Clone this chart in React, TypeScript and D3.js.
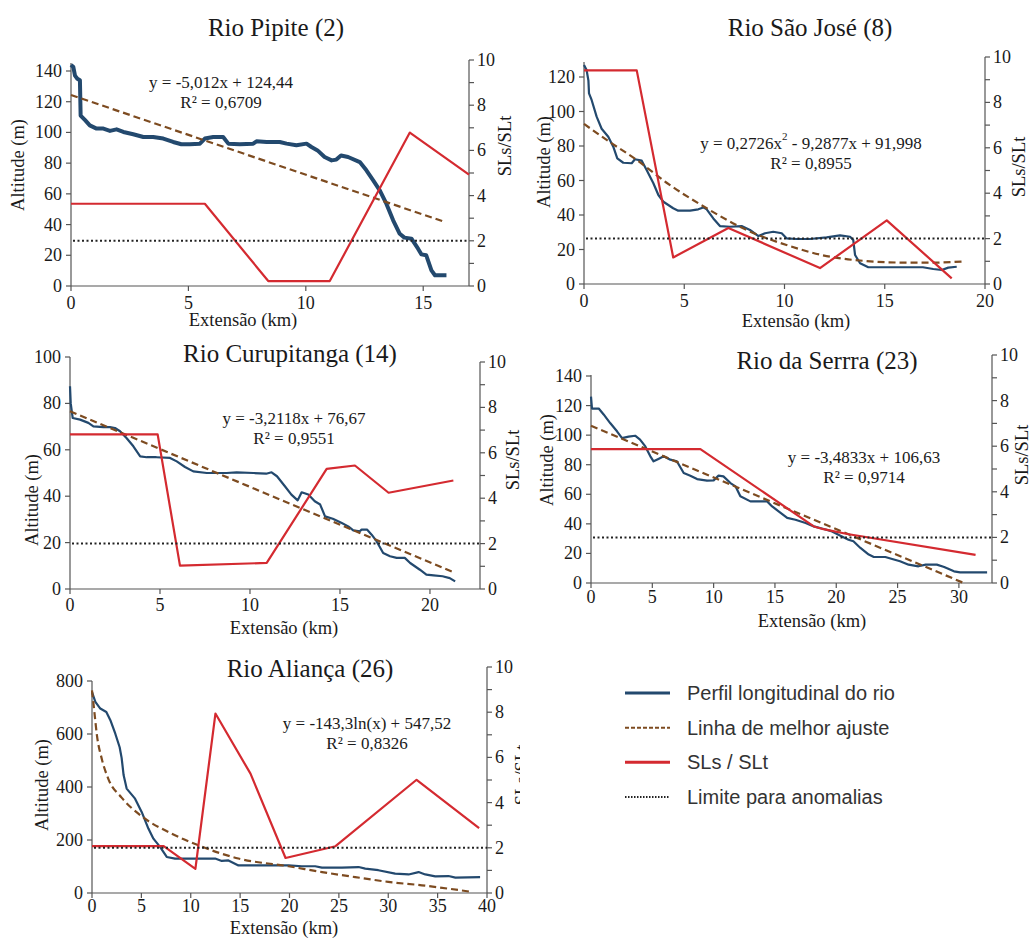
import * as d3 from "d3";

type Pt = [number, number];

// Rio Pipite (2): [km, altitude] and [km, SLs/SLt]
const pipiteProfile: Pt[] = [
  [0, 144], [0.1, 142.6], [0.17, 137], [0.27, 135], [0.38, 134], [0.41, 111], [0.6, 108], [0.8, 104.6],
  [1.09, 102.5], [1.38, 102.5], [1.66, 101], [1.94, 102], [2.23, 100.3], [2.65, 98.8], [3.08, 97], [3.5, 97],
  [3.93, 96], [4.35, 93.8], [4.7, 92.3], [5.06, 92.3], [5.49, 92.7], [5.7, 96], [6.06, 97], [6.48, 97],
  [6.7, 92.7], [7.19, 92.3], [7.76, 92.7], [7.9, 94.2], [8.33, 93.8], [8.89, 93.8], [9.18, 92.7], [9.6, 91.6],
  [10.03, 92.7], [10.24, 90.5], [10.5, 88.3], [10.8, 84], [11.1, 81.8], [11.3, 82.3], [11.5, 85], [11.8, 84],
  [12.3, 80.7], [12.58, 75.3], [12.87, 68.8], [13.15, 62.3], [13.43, 53.6], [13.72, 42.8], [14.0, 34],
  [14.2, 31.5], [14.5, 30.8], [14.78, 24.3], [14.92, 20.6], [15.13, 20], [15.35, 10.2], [15.5, 7], [15.99, 7],
];
const pipiteFit: Pt[] = [[0, 124.4], [15.9, 41.8]];
const pipiteSl: Pt[] = [[0, 3.64], [5.7, 3.64], [8.4, 0.22], [11.02, 0.22], [14.43, 6.79], [16.95, 4.93]];
const pipiteEq = ["y = -5,012x + 124,44", "R² = 0,6709"];

// Rio São José (8)
const saoJoseProfile: Pt[] = [
  [0, 127], [0.13, 124], [0.22, 118], [0.25, 110.5], [0.38, 106.7], [0.63, 97], [0.88, 90], [1.21, 85.4],
  [1.46, 79.6], [1.66, 72.8], [1.96, 70.3], [2.38, 70], [2.54, 72.3], [2.88, 71.5], [3.13, 66], [3.46, 58.4],
  [3.71, 51.6], [3.96, 47.7], [4.45, 43.9], [4.7, 42.5], [5.29, 42.5], [5.7, 43.3], [5.95, 44.4], [6.12, 43.3],
  [6.45, 38], [6.78, 33.6], [7.28, 33.2], [7.86, 33.6], [8.28, 31.3], [8.7, 27.8], [9.03, 29.4], [9.44, 30.3],
  [9.86, 29.4], [10.1, 26.5], [10.6, 26.1], [11.27, 26.1], [12.1, 27], [12.77, 28.2], [13.27, 27.4],
  [13.43, 25.5], [13.52, 16.8], [13.77, 12], [14.18, 9.7], [14.76, 9.7], [15.93, 9.7], [16.9, 9.7],
  [17.42, 8.7], [17.84, 8.1], [18.17, 9.5], [18.59, 10],
];
const saoJoseFit: Pt[] = [
  [0, 92.8], [1.13, 83.5], [2.63, 71.9], [4.12, 58.7], [6.12, 43.9], [8.11, 31.3], [10.1, 22.6],
  [12.1, 16.2], [14.1, 13.3], [16.1, 12.4], [17.4, 12.4], [19, 13.1],
];
const saoJoseSl: Pt[] = [[0, 9.41], [2.63, 9.41], [4.45, 1.17], [7.2, 2.47], [11.77, 0.7], [15.1, 2.8], [18.34, 0.25]];
const saoJoseEq = ["y = 0,2726x^2 - 9,2877x + 91,998", "R² = 0,8955"];

// Rio Curupitanga (14)
const curupitangaProfile: Pt[] = [
  [0, 87.4], [0.04, 80], [0.15, 73.7], [0.56, 73], [1.02, 71.6], [1.3, 70.1], [1.85, 69.8], [2.22, 69.8],
  [2.5, 69.4], [2.78, 68], [3.15, 65], [3.52, 61.5], [3.9, 57.2], [4.26, 56.8], [4.8, 56.8], [5.56, 56.5],
  [5.93, 55], [6.39, 52.6], [6.85, 50.7], [7.6, 50], [8.7, 50], [9.26, 50.3], [10.19, 50], [10.9, 49.7],
  [11.2, 50.3], [11.5, 48.6], [11.94, 44.3], [12.3, 40.7], [12.65, 38.2], [12.87, 41.7], [13.24, 40.7],
  [13.6, 37.8], [13.9, 36.4], [14.17, 31.3], [14.6, 30.3], [15.1, 28.4], [15.46, 27], [15.74, 25.3],
  [16.1, 24.9], [16.2, 25.6], [16.5, 25.6], [16.76, 23.4], [17.04, 20.5], [17.4, 15.5], [17.78, 14.1],
  [18.15, 13.4], [18.6, 13.4], [18.9, 11.2], [19.44, 8.3], [19.8, 6.2], [20.2, 5.9], [20.7, 5.5],
  [21.1, 4.7], [21.4, 3.3],
];
const curupitangaFit: Pt[] = [[0, 76.6], [21.4, 6.9]];
const curupitangaSl: Pt[] = [
  [0, 6.81], [4.87, 6.81], [6.11, 1.03], [10.93, 1.15], [14.26, 5.29], [15.83, 5.44], [17.7, 4.24], [21.3, 4.78],
];
const curupitangaEq = ["y = -3,2118x + 76,67", "R² = 0,9551"];

// Rio da Serrra (23)
const serraProfile: Pt[] = [
  [0, 126], [0.08, 118], [0.63, 118], [1.03, 114], [1.58, 108], [2.12, 102.6], [2.53, 98], [3.07, 99],
  [3.6, 99.6], [4.0, 97], [4.43, 92.4], [4.84, 85.7], [5.1, 82.3], [5.5, 83.9], [5.93, 85.7], [6.47, 83.4],
  [7.0, 82.3], [7.56, 74.4], [8.1, 72.6], [8.65, 70.3], [9.46, 69.2], [10.0, 69.4], [10.4, 72.6],
  [10.8, 72.1], [11.37, 67.6], [11.78, 65.4], [12.18, 58.6], [13.0, 55.2], [13.8, 55.2], [14.36, 55.2],
  [14.77, 51.8], [15.3, 48.5], [16.0, 44], [16.67, 42.8], [17.5, 40.6], [18.17, 38.3], [18.98, 36.5],
  [19.66, 34.9], [20.34, 32], [21.0, 29.3], [21.4, 28.2], [21.97, 23.7], [22.65, 19.2], [23.06, 17.6],
  [24.0, 17.6], [24.56, 16.2], [25.2, 14.7], [25.9, 12.4], [26.7, 11.3], [27.3, 12.4], [28.2, 12.4],
  [28.8, 10.8], [29.6, 7.9], [30.1, 7.2], [32.3, 7.2],
];
const serraFit: Pt[] = [[0, 106.4], [30.4, 0]];
const serraSl: Pt[] = [[0, 5.87], [8.92, 5.87], [18.17, 2.48], [18.96, 2.36], [20.9, 2.15], [31.36, 1.23]];
const serraEq = ["y = -3,4833x + 106,63", "R² = 0,9714"];

// Rio Aliança (26)
const aliancaProfile: Pt[] = [
  [0, 758], [0.34, 721], [0.84, 696], [1.45, 683], [1.86, 652], [2.36, 601], [2.8, 550], [3.0, 510],
  [3.2, 445], [3.51, 394], [4.36, 356], [5.03, 306], [5.71, 243], [6.22, 205], [6.89, 174], [7.57, 136],
  [8.41, 130], [9.76, 130], [12.47, 130], [13.14, 121], [13.82, 123], [14.83, 104], [16.52, 104],
  [18.55, 104], [19.9, 104], [21.25, 101], [22.6, 101], [23.28, 96], [25.3, 96], [27.0, 98], [27.67, 92],
  [29.0, 86], [30.7, 73], [32.06, 70], [33.07, 79], [33.75, 70], [34.76, 63], [36.1, 64], [36.8, 58], [39.3, 60],
];
const aliancaFit: Pt[] = [
  [0, 765], [0.25, 680], [0.5, 595], [1.0, 505], [1.66, 430], [3.0, 360], [5.2, 285], [8.07, 224],
  [10.78, 180], [14.83, 130], [19.9, 101], [23.3, 79], [26.65, 60], [30, 42], [33.4, 29], [38.5, 4],
];
const aliancaSl: Pt[] = [
  [0, 2.07], [7.26, 2.07], [10.47, 1.07], [12.5, 7.94], [16.05, 5.28], [19.6, 1.55], [24.66, 2.07],
  [32.87, 5.01], [39.2, 2.87],
];
const aliancaEq = ["y = -143,3ln(x) + 547,52", "R² = 0,8326"];

// Axis ticks
const altTicks140 = [0, 20, 40, 60, 80, 100, 120, 140];
const altTicks120 = [0, 20, 40, 60, 80, 100, 120];
const altTicks100 = [0, 20, 40, 60, 80, 100];
const altTicks800 = [0, 200, 400, 600, 800];
const kmTicks15 = [0, 5, 10, 15];
const kmTicks20 = [0, 5, 10, 15, 20];
const kmTicks30 = [0, 5, 10, 15, 20, 25, 30];
const kmTicks40 = [0, 5, 10, 15, 20, 25, 30, 35, 40];
const slTicks = [0, 1, 2, 3, 4, 5, 6, 7, 8, 9, 10];
const slLimit = 2;

const legendLabels = ["Perfil longitudinal do rio", "Linha de melhor ajuste", "SLs / SLt", "Limite para anomalias"];

const BLUE = "#23496e";
const RED = "#d42a30";
const BROWN = "#7d4b20";
const AXIS = "#555";
const TEXT = "#1a1a1a";
const SERIF = "'Liberation Serif', 'Times New Roman', 'DejaVu Serif', serif";
const SANS = "'Liberation Sans', Arial, sans-serif";

const panels = [
  {
    title: "Rio Pipite (2)", profile: pipiteProfile, fit: pipiteFit, sl: pipiteSl, eq: pipiteEq,
    altTicks: altTicks140, kmTicks: kmTicks15, kmMax: 16.95, altMax: 140,
    x0: 71, x1: 469, yb: 286, altTopY: 71, axisTopY: 63, slTopY: 60, kmLabelDy: 17,
    titlePos: [276, 27], eqPos: [221, 82], yTitlePos: [18, 165], slTitlePos: [505, 146], xTitlePos: [243, 320],
    profileWidth: 4, clipRight: 1032,
  },
  {
    title: "Rio São José (8)", profile: saoJoseProfile, fit: saoJoseFit, sl: saoJoseSl, eq: saoJoseEq,
    altTicks: altTicks120, kmTicks: kmTicks20, kmMax: 20, altMax: 120,
    x0: 584, x1: 985, yb: 284, altTopY: 77, axisTopY: 62, slTopY: 57, kmLabelDy: 17,
    titlePos: [810, 27], eqPos: [811, 143], yTitlePos: [544, 162], slTitlePos: [1019, 167], xTitlePos: [796, 321],
    profileWidth: 2.2, clipRight: 1032,
  },
  {
    title: "Rio Curupitanga (14)", profile: curupitangaProfile, fit: curupitangaFit, sl: curupitangaSl, eq: curupitangaEq,
    altTicks: altTicks100, kmTicks: kmTicks20, kmMax: 22.78, altMax: 100,
    x0: 70, x1: 480, yb: 589, altTopY: 357, axisTopY: 357, slTopY: 362, kmLabelDy: 16,
    titlePos: [290, 353], eqPos: [294, 418], yTitlePos: [32, 500], slTitlePos: [513, 460], xTitlePos: [284, 628],
    profileWidth: 2.2, clipRight: 1032,
  },
  {
    title: "Rio da Serrra (23)", profile: serraProfile, fit: serraFit, sl: serraSl, eq: serraEq,
    altTicks: altTicks140, kmTicks: kmTicks30, kmMax: 32.7, altMax: 140,
    x0: 591, x1: 992, yb: 583, altTopY: 376, axisTopY: 375, slTopY: 355, kmLabelDy: 14,
    titlePos: [827, 360], eqPos: [864, 457], yTitlePos: [547, 460], slTitlePos: [1022, 455], xTitlePos: [812, 621],
    profileWidth: 2.2, clipRight: 1032,
  },
  {
    title: "Rio Aliança (26)", profile: aliancaProfile, fit: aliancaFit, sl: aliancaSl, eq: aliancaEq,
    altTicks: altTicks800, kmTicks: kmTicks40, kmMax: 40, altMax: 800,
    x0: 92, x1: 487, yb: 893, altTopY: 681, axisTopY: 681, slTopY: 667, kmLabelDy: 13,
    titlePos: [310, 668], eqPos: [367, 723], yTitlePos: [42, 785], slTitlePos: [522, 775], xTitlePos: [284, 928],
    profileWidth: 2.2, clipRight: 520,
  },
];

type PanelCfg = (typeof panels)[number];

// Renders an equation line, turning "^2" into a superscript.
function EqLine({ text, x, y }: { text: string; x: number; y: number }) {
  const parts = text.split("^2");
  return (
    <text x={x} y={y} textAnchor="middle" dominantBaseline="central" fill={TEXT} style={{ fontFamily: SERIF, fontSize: 17 }}>
      {parts.length === 1 ? (
        text
      ) : (
        <>
          <tspan>{parts[0]}</tspan>
          <tspan dy={-7} style={{ fontSize: 11 }}>2</tspan>
          <tspan dy={7}>{parts[1]}</tspan>
        </>
      )}
    </text>
  );
}

const tickStyle = { fontFamily: SERIF, fontSize: 18 };
const titleStyle = { fontFamily: SERIF, fontSize: 18.5 };

function Panel({ p, idx }: { p: PanelCfg; idx: number }) {
  const x = d3.scaleLinear().domain([0, p.kmMax]).range([p.x0, p.x1]);
  const yAlt = d3.scaleLinear().domain([0, p.altMax]).range([p.yb, p.altTopY]);
  const ySl = d3.scaleLinear().domain([0, 10]).range([p.yb, p.slTopY]);

  const altLine = d3.line<Pt>().x((d) => x(d[0])).y((d) => yAlt(d[1]));
  const fitLine = d3.line<Pt>().x((d) => x(d[0])).y((d) => yAlt(d[1])).curve(d3.curveMonotoneX);
  const slLine = d3.line<Pt>().x((d) => x(d[0])).y((d) => ySl(d[1]));

  const clipId = `clip-${idx}`;

  return (
    <g clipPath={`url(#${clipId})`}>
      <clipPath id={clipId}>
        <rect x={0} y={0} width={p.clipRight} height={938} />
      </clipPath>

      <text x={p.titlePos[0]} y={p.titlePos[1]} textAnchor="middle" dominantBaseline="central" fill={TEXT} style={{ fontFamily: SERIF, fontSize: 25 }}>
        {p.title}
      </text>

      {/* axes */}
      <g stroke={AXIS} strokeWidth={1.2} fill="none">
        <line x1={p.x0} x2={p.x1} y1={p.yb} y2={p.yb} />
        <line x1={p.x0} x2={p.x0} y1={p.axisTopY} y2={p.yb} />
        <line x1={p.x1} x2={p.x1} y1={p.slTopY} y2={p.yb} />
        {p.altTicks.map((t) => (
          <line key={`a${t}`} x1={p.x0 - 5} x2={p.x0} y1={yAlt(t)} y2={yAlt(t)} />
        ))}
        {p.kmTicks.map((t) => (
          <line key={`k${t}`} x1={x(t)} x2={x(t)} y1={p.yb} y2={p.yb + 5} />
        ))}
        {slTicks.map((t) => (
          <line key={`s${t}`} x1={p.x1} x2={p.x1 + 5} y1={ySl(t)} y2={ySl(t)} />
        ))}
      </g>

      {p.altTicks.map((t) => (
        <text key={`al${t}`} x={p.x0 - 9} y={yAlt(t)} textAnchor="end" dominantBaseline="central" fill={TEXT} style={tickStyle}>
          {t}
        </text>
      ))}
      {p.kmTicks.map((t) => (
        <text key={`kl${t}`} x={x(t)} y={p.yb + p.kmLabelDy} textAnchor="middle" dominantBaseline="central" fill={TEXT} style={tickStyle}>
          {t}
        </text>
      ))}
      {slTicks
        .filter((t) => t % 2 === 0)
        .map((t) => (
          <text key={`sl${t}`} x={p.x1 + 8} y={ySl(t)} textAnchor="start" dominantBaseline="central" fill={TEXT} style={tickStyle}>
            {t}
          </text>
        ))}

      <text transform={`translate(${p.yTitlePos[0]},${p.yTitlePos[1]}) rotate(-90)`} textAnchor="middle" dominantBaseline="central" fill={TEXT} style={titleStyle}>
        Altitude (m)
      </text>
      <text transform={`translate(${p.slTitlePos[0]},${p.slTitlePos[1]}) rotate(-90)`} textAnchor="middle" dominantBaseline="central" fill={TEXT} style={titleStyle}>
        SLs/SLt
      </text>
      <text x={p.xTitlePos[0]} y={p.xTitlePos[1]} textAnchor="middle" dominantBaseline="central" fill={TEXT} style={titleStyle}>
        Extensão (km)
      </text>

      <EqLine text={p.eq[0]} x={p.eqPos[0]} y={p.eqPos[1]} />
      <EqLine text={p.eq[1]} x={p.eqPos[0]} y={p.eqPos[1] + 20} />

      {/* series */}
      <path d={altLine(p.profile) ?? ""} fill="none" stroke={BLUE} strokeWidth={p.profileWidth} strokeLinejoin="round" />
      <path d={fitLine(p.fit) ?? ""} fill="none" stroke={BROWN} strokeWidth={2.2} strokeDasharray="7,4" />
      <path d={slLine(p.sl) ?? ""} fill="none" stroke={RED} strokeWidth={2.2} strokeLinejoin="round" />
      <line x1={p.x0 + 2} x2={p.x1} y1={ySl(slLimit)} y2={ySl(slLimit)} stroke="#222" strokeWidth={2} strokeDasharray="2,2.5" />
    </g>
  );
}

function Legend() {
  const rows = d3.scalePoint<string>().domain(legendLabels).range([693, 797]);
  const styles = [
    { stroke: BLUE, width: 3, dash: "none" },
    { stroke: BROWN, width: 2, dash: "4,2" },
    { stroke: RED, width: 3, dash: "none" },
    { stroke: "#222", width: 2, dash: "1.5,1.5" },
  ];
  return (
    <g>
      {legendLabels.map((label, i) => {
        const y = rows(label) ?? 0;
        return (
          <g key={label}>
            <line x1={625} x2={670} y1={y} y2={y} stroke={styles[i].stroke} strokeWidth={styles[i].width} strokeDasharray={styles[i].dash} />
            <text x={687} y={y} dominantBaseline="central" fill="#333" style={{ fontFamily: SANS, fontSize: 20 }}>
              {label}
            </text>
          </g>
        );
      })}
    </g>
  );
}

export default function App() {
  return (
    <svg width={1032} height={938} style={{ position: "absolute", left: 0, top: 0, background: "#fff" }}>
      {panels.map((p, i) => (
        <Panel key={p.title} p={p} idx={i} />
      ))}
      <Legend />
    </svg>
  );
}
